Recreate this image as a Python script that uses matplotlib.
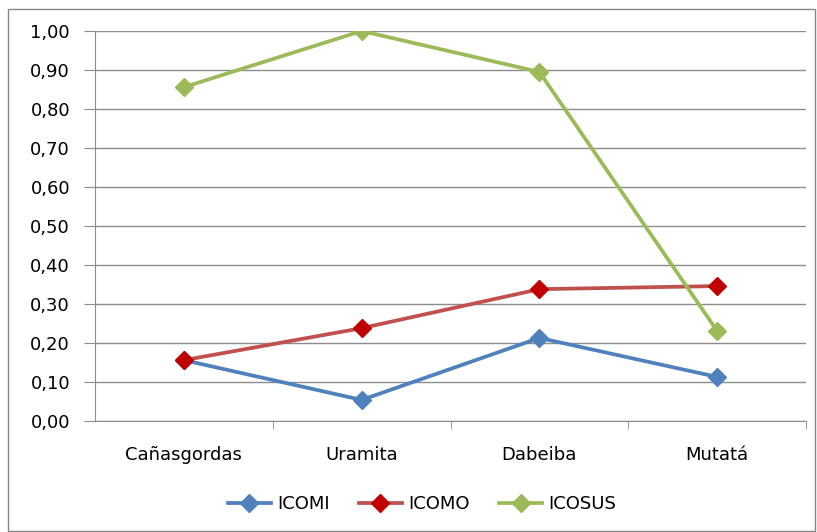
import matplotlib.pyplot as plt
from matplotlib.ticker import FuncFormatter, FixedLocator
from matplotlib.patches import Rectangle

# ---------------------------------------
# Data
# ---------------------------------------
municipios = ["Cañasgordas", "Uramita", "Dabeiba", "Mutatá"]
icomi = [0.156, 0.054, 0.213, 0.113]
icomo = [0.156, 0.238, 0.338, 0.346]
icosus = [0.856, 1.000, 0.895, 0.231]

series = [
    ("ICOMI", icomi, "#4F81BD", "#4F81BD"),
    ("ICOMO", icomo, "#C0504D", "#C00000"),
    ("ICOSUS", icosus, "#9BBB59", "#9BBB59"),
]

plt.rcParams["font.family"] = ["DejaVu Sans"]
FS = 13

fig = plt.figure(figsize=(8.17, 5.32), dpi=100)
ax = fig.add_axes([95 / 817, 1 - 421 / 532, 711 / 817, 390 / 532])

# outer chart border
fig.patches.append(Rectangle((8 / 817, 1 / 532), 807 / 817, 522 / 532,
                             transform=fig.transFigure, fill=False,
                             edgecolor="#868686", linewidth=1.0))

x = list(range(len(municipios)))
for name, vals, lc, mc in series:
    ax.plot(x, vals, color=lc, linewidth=2.7, marker="D", markersize=8.8,
            markerfacecolor=mc, markeredgecolor=mc, label=name, zorder=3)

ax.set_xlim(-0.5, len(municipios) - 0.5)
ax.set_ylim(0, 1.0)
ax.set_yticks([i / 10 for i in range(11)])
ax.yaxis.set_major_formatter(FuncFormatter(lambda v, p: f"{v:.2f}".replace(".", ",")))
ax.grid(axis="y", color="#8C8C8C", linewidth=1.0)
ax.set_axisbelow(True)

# category labels centered, tick marks on boundaries
ax.set_xticks(x)
ax.set_xticklabels(municipios)
ax.xaxis.set_minor_locator(FixedLocator([0.5, 1.5, 2.5, 3.5]))
ax.tick_params(axis="x", which="major", length=0, pad=18, labelsize=FS)
ax.tick_params(axis="x", which="minor", length=6, color="#8C8C8C", direction="out")
ax.tick_params(axis="y", length=8, color="#8C8C8C", labelsize=FS, pad=10)

for s in ["top", "right"]:
    ax.spines[s].set_visible(False)
for s in ["left", "bottom"]:
    ax.spines[s].set_color("#8C8C8C")

ax.legend(loc="center", bbox_to_anchor=(422 / 817, 1 - 504 / 532),
          bbox_transform=fig.transFigure, ncol=3, frameon=False,
          fontsize=FS, handlelength=2.4, handletextpad=0.35,
          columnspacing=1.6)

plt.savefig("out.png", dpi=100)
